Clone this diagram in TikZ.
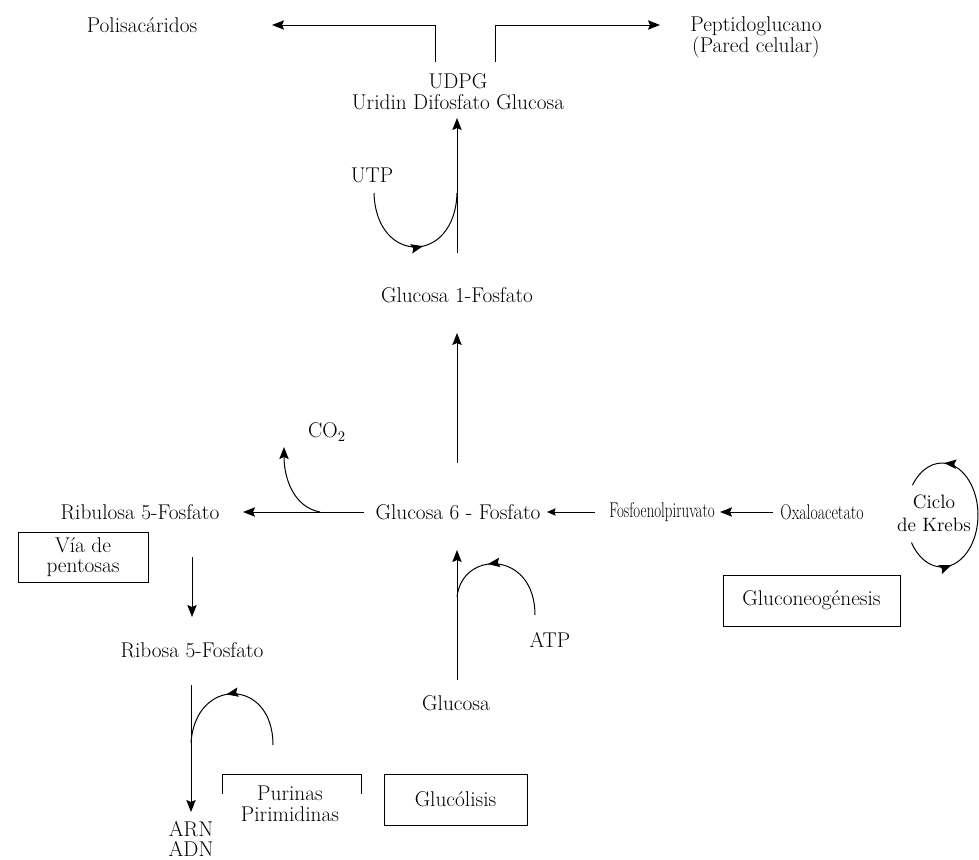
\documentclass[tikz,border=0pt]{standalone}
\usepackage{graphicx}
\usetikzlibrary{arrows.meta,calc,decorations.markings}
\newcommand\diagfont{\fontsize{16}{15.5}\selectfont}
\newcommand\krebsfont{\fontsize{14.5}{17}\selectfont}
\begin{document}
\begin{tikzpicture}[x=0.75pt,y=-0.75pt,
  lbl/.style={font=\diagfont, inner sep=0pt, align=center},
  boxn/.style={draw, line width=0.6pt, font=\diagfont, inner sep=0pt, align=center},
  ln/.style={line width=0.75pt},
  arr/.style={line width=0.75pt, -{Stealth[length=9pt,width=7pt,inset=1.5pt]}},
  tarr/.style={line width=0.6pt, -{Stealth[length=6.5pt,width=5.5pt,inset=1pt]}},
  midarr/.style={line width=0.75pt, postaction={decorate},
    decoration={markings, mark=at position #1 with {\arrow{Stealth[length=9pt,width=7pt,inset=1.5pt]}}}}
]
\useasboundingbox (0,0) rectangle (979,860);

% nodes
\node[lbl] (polis) at (142,25) {Polisacáridos};
\node[lbl] (pept) at (756,37) {Peptidoglucano\\(Pared celular)};
\node[lbl] (udpg) at (458,92) {UDPG\\Uridin Difosfato Glucosa};
\node[lbl] (utp) at (372,175) {UTP};
\node[lbl] (g1p) at (457,295) {Glucosa 1-Fosfato};
\node[lbl] (co2) at (327,432) {CO$_2$};
\node[lbl] (rib) at (140,512) {Ribulosa 5-Fosfato};
\node[lbl] (g6p) at (458,512) {Glucosa 6 - Fosfato};
\node[lbl] (pep) at (662,512) {\scalebox{0.7}[1]{Fosfoenolpiruvato}};
\node[lbl] (oxa) at (822,512) {\scalebox{0.74}[1]{Oxaloacetato}};
\node[lbl, font=\krebsfont] (krebs) at (934,513) {Ciclo\\de Krebs};
\node[boxn, minimum width=97.5pt, minimum height=37.5pt] (via) at (83,557) {Vía de\\pentosas};
\node[boxn, minimum width=132.75pt, minimum height=38.25pt] (gneo) at (811.5,600.5) {Gluconeogénesis};
\node[lbl] (r5p) at (192,650) {Ribosa 5-Fosfato};
\node[lbl] (atp) at (550,640) {ATP};
\node[lbl] (glc) at (456,703) {Glucosa};
\node[lbl] (purin) at (290,804) {Purinas\\Pirimidinas};
\node[boxn, minimum width=107.25pt, minimum height=38.25pt] (gluc) at (455.5,799.5) {Glucólisis};
\node[lbl] (arn) at (191,839) {ARN\\ADN};
\coordinate (kc) at ($(krebs)+(8,2)$);

% UDPG branches
\draw[arr] ($(udpg)+(-23,-30)$) |- ($(polis)+(130,0)$);
\draw[arr] ($(udpg)+(37,-30)$) |- ($(pept)+(-96,-12)$);
% G1P -> UDPG with UTP
\draw[arr] ($(g1p)+(0,-42)$) -- ($(udpg)+(-1,26)$);
\draw[midarr=0.55] ($(utp)+(2,18)$) .. controls ($(utp)+(4,90)$) and ($(utp)+(83,90)$) .. ($(g1p)+(0,-102)$);
% G6P -> G1P
\draw[arr] ($(g6p)+(-1,-49)$) -- ($(g1p)+(0,38)$);
% G6P -> Ribulosa, CO2
\draw[arr] ($(g6p)+(-94,0)$) -- ($(rib)+(103,0)$);
\draw[arr] ($(g6p)+(-138,0)$) .. controls ($(g6p)+(-165,-5)$) and ($(co2)+(-43,45)$) .. ($(co2)+(-43,15)$);
% gluconeogenesis chain
\draw[tarr] ($(pep)+(-67,0)$) -- ($(g6p)+(89,0)$);
\draw[arr] ($(oxa)+(-49,0)$) -- ($(pep)+(58,0)$);
% Krebs cycle
\draw[midarr=0.65] ([shift={(-10:27pt and 39pt)}]kc) arc[start angle=-10, end angle=145, x radius=27pt, y radius=39pt];
\draw[midarr=0.5] ([shift={(212:27pt and 39pt)}]kc) arc[start angle=212, end angle=350, x radius=27pt, y radius=39pt];
% Ribulosa -> Ribosa
\draw[arr] ($(r5p)+(0,-93)$) -- ($(r5p)+(0,-33)$);
% Glucosa -> G6P with ATP
\draw[arr] ($(glc)+(1,-23)$) -- ($(g6p)+(-1,38)$);
\draw[midarr=0.62] ($(atp)+(-15,-25)$) .. controls ($(atp)+(-15,-90)$) and ($(atp)+(-88,-90)$) .. ($(glc)+(1,-106)$);
% Ribosa -> ARN/ADN with purinas
\draw[arr] ($(r5p)+(-1,35)$) -- ($(arn)+(0,-27)$);
\draw[midarr=0.55] ($(purin)+(-17,-59)$) .. controls ($(purin)+(-17,-127)$) and ($(purin)+(-95,-127)$) .. ($(r5p)+(-1,93)$);
\draw[ln] ($(purin)+(-68,-10)$) -- ($(purin)+(-68,-30)$) -- ($(purin)+(71,-30)$) -- ($(purin)+(71,-10)$);
\end{tikzpicture}
\end{document}
